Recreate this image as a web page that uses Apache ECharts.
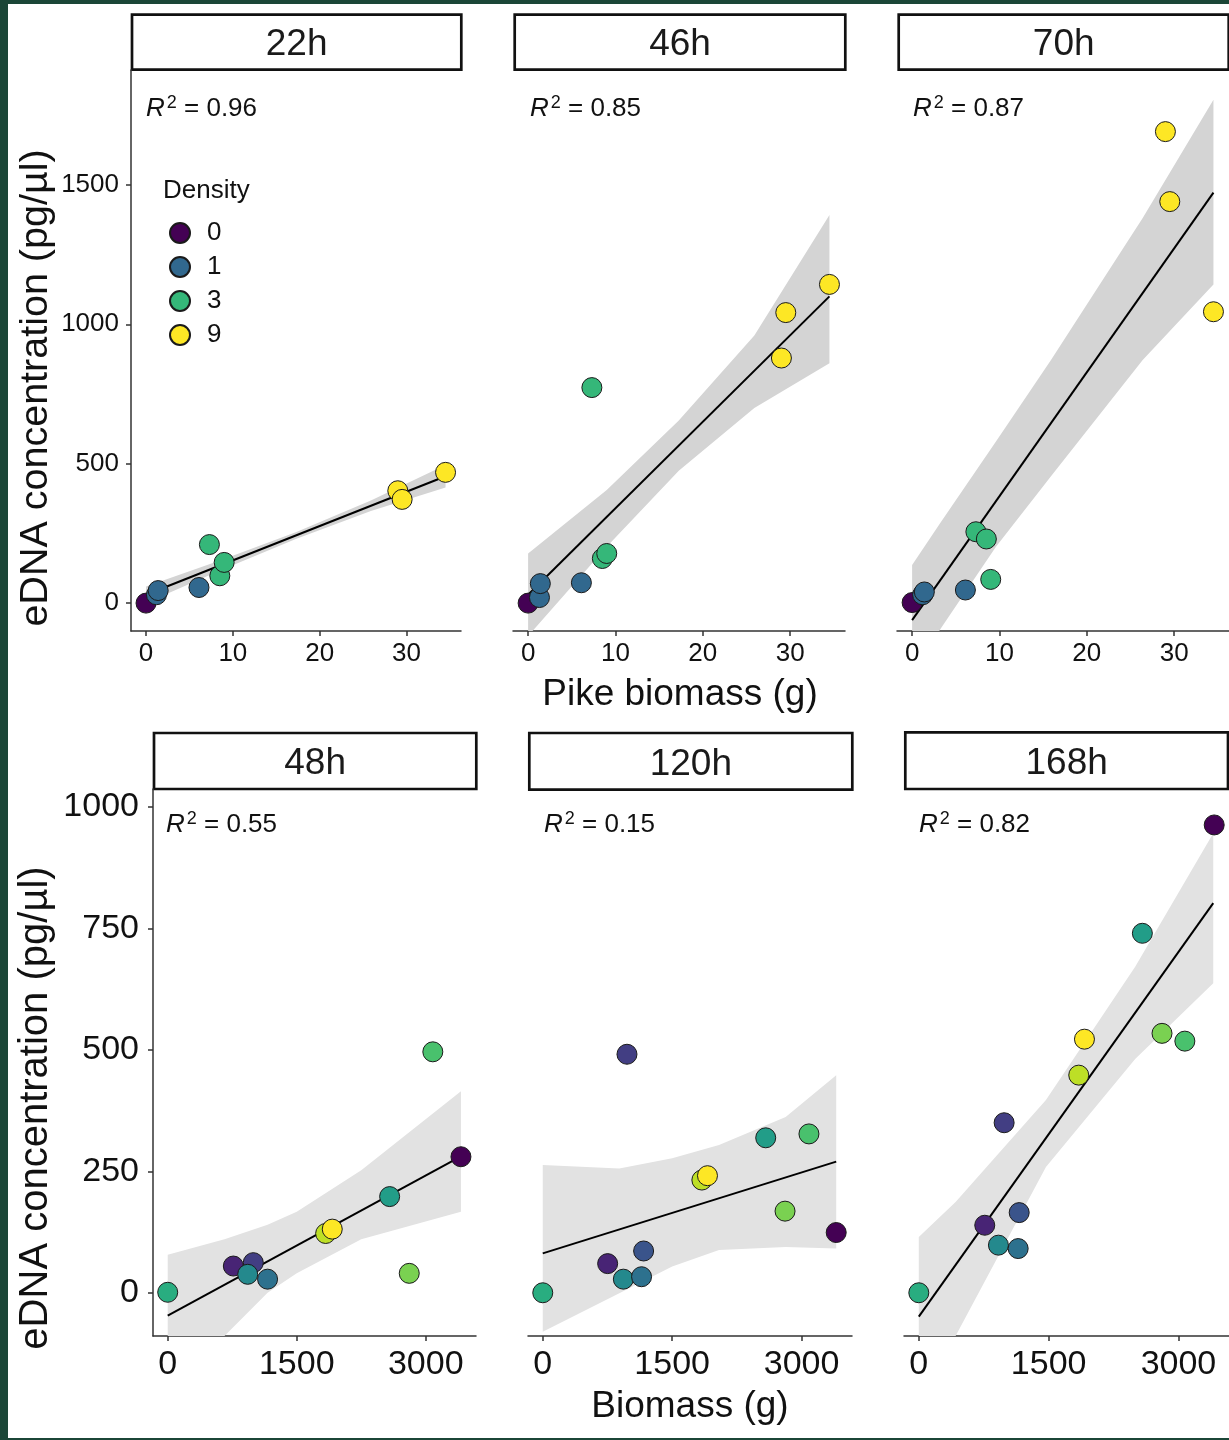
<!DOCTYPE html>
<html>
<head>
<meta charset="utf-8">
<script src="https://cdn.jsdelivr.net/npm/echarts@6/dist/echarts.min.js"></script>
<style>
  html, body { margin: 0; padding: 0; background: #1b4637; }
  #paper { position: absolute; left: 8px; top: 4px; width: 1221px; height: 1434px; background: #fff; }
  #chart { position: absolute; left: 0; top: 0; width: 1229px; height: 1440px; }
</style>
</head>
<body>
<div id="paper"></div>
<div id="chart"></div>
<script>
// ---- top figure: pike biomass (g) vs eDNA, coloured by density ----
var densityLevels = [0, 1, 3, 9];
var topTimes = ['22h', '46h', '70h'];
var topR2 = ['0.96', '0.85', '0.87'];
var topXTicks = [0, 10, 20, 30];
var topYTicks = [0, 500, 1000, 1500];

var h22X = [0, 1.2, 1.4, 6.1, 7.3, 8.5, 9.0, 29.0, 29.5, 34.5];
var h22Y = [0, 30, 45, 56, 210, 98, 146, 403, 372, 469];
var h22D = [0, 1, 1, 1, 3, 3, 3, 9, 9, 9];
var h46X = [0, 1.3, 1.4, 6.1, 7.3, 8.5, 9.0, 29.0, 29.5, 34.5];
var h46Y = [0, 20, 70, 73, 773, 160, 178, 879, 1042, 1143];
var h46D = [0, 1, 1, 1, 3, 3, 3, 9, 9, 9];
var h70X = [0, 1.2, 1.4, 6.1, 7.3, 8.5, 9.0, 29.0, 29.5, 34.5];
var h70Y = [2, 30, 40, 47, 256, 230, 85, 1691, 1440, 1045];
var h70D = [0, 1, 1, 1, 3, 3, 3, 9, 9, 9];

// fitted lines and confidence bands
var fit22X = [0, 34.5], fit22Y = [30, 455];
var fit46X = [0, 34.5], fit46Y = [30, 1100];
var fit70X = [0, 34.5], fit70Y = [-61, 1472];
var band22X = [0, 8.6, 17.25, 25.9, 34.5];
var band22Lo = [0, 118, 230, 330, 415];
var band22Hi = [60, 154, 254, 368, 495];
var band46X = [0, 9, 17.25, 25.9, 34.5];
var band46Lo = [-118, 202, 475, 700, 860];
var band46Hi = [178, 406, 655, 960, 1392];
var band70X = [0, 3.3, 9.6, 15.9, 26.4, 34.5];
var band70Lo = [-261, -90, 202, 455, 872, 1143];
var band70Hi = [137, 291, 580, 872, 1381, 1805];

// ---- bottom figure: biomass (g) vs eDNA, colour scale value per tank ----
var botTimes = ['48h', '120h', '168h'];
var botR2 = ['0.55', '0.15', '0.82'];
var botXTicks = [0, 1500, 3000];
var botYTicks = [0, 250, 500, 750, 1000];

var h48X = [0, 763, 995, 930, 1161, 1836, 1913, 2580, 2808, 3082, 3409];
var h48Y = [1, 55, 62, 38, 28, 122, 131, 198, 40, 496, 280];
var h48C = [0.62, 0.1, 0.18, 0.47, 0.37, 0.9, 1.0, 0.55, 0.8, 0.71, 0.0];
var h120X = [0, 752, 934, 976, 1145, 1169, 1844, 1909, 2584, 2808, 3085, 3401];
var h120Y = [0, 60, 28, 491, 33, 86, 232, 241, 319, 168, 327, 124];
var h120C = [0.62, 0.1, 0.47, 0.18, 0.37, 0.26, 0.9, 1.0, 0.55, 0.8, 0.71, 0.0];
var h168X = [0, 762, 920, 986, 1148, 1160, 1848, 1914, 2583, 2810, 3074, 3413];
var h168Y = [0, 139, 98, 350, 91, 165, 448, 522, 740, 534, 518, 963];
var h168C = [0.62, 0.1, 0.47, 0.18, 0.37, 0.26, 0.9, 1.0, 0.55, 0.8, 0.71, 0.0];

var fit48X = [0, 3409], fit48Y = [-47, 281];
var fit120X = [0, 3401], fit120Y = [81, 270];
var fit168X = [0, 3402], fit168Y = [-49, 802];
var band48X = [0, 660, 1161, 1500, 2250, 3409];
var band48Lo = [-172, -89, 0, 40, 110, 167];
var band48Hi = [78, 110, 140, 167, 252, 415];
var band120X = [0, 887, 1500, 2043, 2815, 3401];
var band120Lo = [-80, -1, 54, 88, 94, 91];
var band120Hi = [263, 256, 277, 304, 362, 448];
var band168X = [0, 425, 1469, 2500, 3402];
var band168Lo = [-213, -89, 259, 481, 637];
var band168Hi = [115, 187, 397, 671, 946];

var FONT = "'Liberation Sans', Arial, sans-serif";
var viridis4 = ['#440154', '#31688E', '#35B779', '#FDE725'];
var viridis = ['#440154', '#482475', '#414487', '#355F8D', '#2A788E', '#21918C',
               '#22A884', '#44BF70', '#7AD151', '#BDDF26', '#FDE725'];

var chart = echarts.init(document.getElementById('chart'));

var grids = [
  { left: 131, top: 70, width: 330, height: 561 },
  { left: 513, top: 70, width: 332, height: 561 },
  { left: 897, top: 70, width: 332, height: 561 },
  { left: 153, top: 789, width: 323, height: 547 },
  { left: 528, top: 789, width: 324, height: 547 },
  { left: 904, top: 789, width: 325, height: 547 }
];

var axisLine = { show: true, onZero: false, lineStyle: { color: '#333', width: 1.5 } };
var axisTick = { show: true, length: 5, lineStyle: { color: '#333', width: 1.5 } };
function plain(v) { return String(v); }

function xAxisFor(i) {
  var top = i < 3;
  return {
    type: 'value', gridIndex: i,
    min: top ? -1.73 : -171, max: top ? 36.28 : 3584,
    axisLine: axisLine,
    axisTick: Object.assign({ customValues: top ? topXTicks : botXTicks }, axisTick),
    axisLabel: { customValues: top ? topXTicks : botXTicks, formatter: plain,
                 fontSize: top ? 26 : 34, color: '#111', fontFamily: FONT, margin: top ? 10 : 12 },
    splitLine: { show: false }
  };
}
function yAxisFor(i) {
  var top = i < 3;
  var shown = (i === 0 || i === 3);
  return {
    type: 'value', gridIndex: i,
    min: top ? -100 : -89, max: top ? 1912 : 1037,
    show: shown,
    axisLine: axisLine,
    axisTick: Object.assign({ customValues: top ? topYTicks : botYTicks }, axisTick),
    axisLabel: { customValues: top ? topYTicks : botYTicks, formatter: plain,
                 fontSize: top ? 26 : 34, color: '#111', fontFamily: FONT, margin: top ? 12 : 14 },
    splitLine: { show: false }
  };
}

function bandSeries(i, xs, lo, hi, fill) {
  return {
    type: 'custom', xAxisIndex: i, yAxisIndex: i, clip: true, silent: true, z: 1,
    data: [[xs[0], lo[0]]],
    renderItem: function (params, api) {
      var pts = [];
      for (var k = 0; k < xs.length; k++) pts.push(api.coord([xs[k], hi[k]]));
      for (var m = xs.length - 1; m >= 0; m--) pts.push(api.coord([xs[m], lo[m]]));
      return { type: 'polygon', shape: { points: pts }, style: { fill: fill } };
    }
  };
}
function fitSeries(i, xs, ys) {
  return {
    type: 'line', xAxisIndex: i, yAxisIndex: i, clip: true, silent: true, z: 2,
    symbol: 'none', lineStyle: { color: '#000', width: 2 },
    data: xs.map(function (x, k) { return [x, ys[k]]; })
  };
}

var series = [];
var topSets = [[h22X, h22Y, h22D], [h46X, h46Y, h46D], [h70X, h70Y, h70D]];
var topFits = [[fit22X, fit22Y], [fit46X, fit46Y], [fit70X, fit70Y]];
var topBands = [[band22X, band22Lo, band22Hi], [band46X, band46Lo, band46Hi], [band70X, band70Lo, band70Hi]];
topSets.forEach(function (set, i) {
  series.push(bandSeries(i, topBands[i][0], topBands[i][1], topBands[i][2], '#d4d4d4'));
  series.push(fitSeries(i, topFits[i][0], topFits[i][1]));
  densityLevels.forEach(function (lev, g) {
    var pts = [];
    set[0].forEach(function (x, k) { if (set[2][k] === lev) pts.push([x, set[1][k]]); });
    series.push({
      type: 'scatter', name: String(lev), xAxisIndex: i, yAxisIndex: i, z: 3,
      symbolSize: 20, data: pts,
      itemStyle: { color: viridis4[g], borderColor: '#1a1a1a', borderWidth: 1, opacity: 1 }
    });
  });
});

var botSets = [[h48X, h48Y, h48C], [h120X, h120Y, h120C], [h168X, h168Y, h168C]];
var botFits = [[fit48X, fit48Y], [fit120X, fit120Y], [fit168X, fit168Y]];
var botBands = [[band48X, band48Lo, band48Hi], [band120X, band120Lo, band120Hi], [band168X, band168Lo, band168Hi]];
var botScatterIdx = [];
botSets.forEach(function (set, j) {
  var i = j + 3;
  series.push(bandSeries(i, botBands[j][0], botBands[j][1], botBands[j][2], '#e2e2e2'));
  series.push(fitSeries(i, botFits[j][0], botFits[j][1]));
  botScatterIdx.push(series.length);
  series.push({
    type: 'scatter', xAxisIndex: i, yAxisIndex: i, z: 3, symbolSize: 20,
    data: set[0].map(function (x, k) { return [x, set[1][k], set[2][k]]; }),
    itemStyle: { borderColor: '#1a1a1a', borderWidth: 1, opacity: 1 }
  });
});

// strips, R² labels and axis titles
var graphics = [];
var topStrips = [[132, 14.7, 329.3, 55], [514.7, 14.7, 330.6, 55], [898.7, 14.7, 330, 55]];
var botStrips = [[154, 733, 322.3, 56], [529.3, 733, 323, 56.7], [905.3, 732.3, 322.7, 56.7]];
function strip(b, label) {
  graphics.push({ type: 'rect', shape: { x: b[0], y: b[1], width: b[2], height: b[3] },
    style: { fill: '#fff', stroke: '#111', lineWidth: 2.7 } });
  graphics.push({ type: 'text', x: b[0] + b[2] / 2, y: b[1] + b[3] / 2 + 3,
    style: { text: label, fontSize: 37, fontFamily: FONT, fill: '#1a1a1a',
             align: 'center', verticalAlign: 'middle' } });
}
topStrips.forEach(function (b, k) { strip(b, topTimes[k]); });
botStrips.forEach(function (b, k) { strip(b, botTimes[k]); });

var r2Rich = {
  r: { fontStyle: 'italic', fontSize: 26, fontFamily: FONT, fill: '#111', lineHeight: 30 },
  s: { fontSize: 18, fontFamily: FONT, fill: '#111', lineHeight: 10, verticalAlign: 'top', padding: [0, 0, 0, 2] },
  n: { fontSize: 26, fontFamily: FONT, fill: '#111', lineHeight: 30 }
};
function r2Label(x, y, val) {
  graphics.push({ type: 'text', x: x, y: y,
    style: { text: '{r|R}{s|2}{n| = ' + val + '}', rich: r2Rich, verticalAlign: 'middle' } });
}
[[146, 109], [530, 109], [913, 109]].forEach(function (p, k) { r2Label(p[0], p[1], topR2[k]); });
[[166, 825], [544, 825], [919, 825]].forEach(function (p, k) { r2Label(p[0], p[1], botR2[k]); });

graphics.push({ type: 'text', x: 163, y: 191,
  style: { text: 'Density', fontSize: 26, fontFamily: FONT, fill: '#111', verticalAlign: 'middle' } });

function yTitle(y, size) {
  graphics.push({ type: 'text', x: 36, y: y, rotation: Math.PI / 2,
    style: { text: 'eDNA concentration (pg/µl)', fontSize: size, fontFamily: FONT, fill: '#111',
             align: 'center', verticalAlign: 'middle' } });
}
yTitle(388, 39.5);
yTitle(1108, 40);
graphics.push({ type: 'text', x: 680, y: 695,
  style: { text: 'Pike biomass (g)', fontSize: 37, fontFamily: FONT, fill: '#111',
           align: 'center', verticalAlign: 'middle' } });
graphics.push({ type: 'text', x: 690, y: 1407,
  style: { text: 'Biomass (g)', fontSize: 37, fontFamily: FONT, fill: '#111',
           align: 'center', verticalAlign: 'middle' } });

chart.setOption({
  animation: false,
  backgroundColor: 'transparent',
  grid: grids,
  xAxis: [0, 1, 2, 3, 4, 5].map(xAxisFor),
  yAxis: [0, 1, 2, 3, 4, 5].map(yAxisFor),
  legend: {
    data: densityLevels.map(String), orient: 'vertical', left: 164, top: 215,
    itemWidth: 20, itemHeight: 20, itemGap: 8, icon: 'circle', selectedMode: false,
    textStyle: { fontSize: 26, fontFamily: FONT, color: '#111', padding: [0, 0, 0, 12] }
  },
  visualMap: {
    show: false, type: 'continuous', min: 0, max: 1, dimension: 2,
    seriesIndex: botScatterIdx, inRange: { color: viridis }
  },
  graphic: graphics,
  series: series
});
</script>
</body>
</html>
